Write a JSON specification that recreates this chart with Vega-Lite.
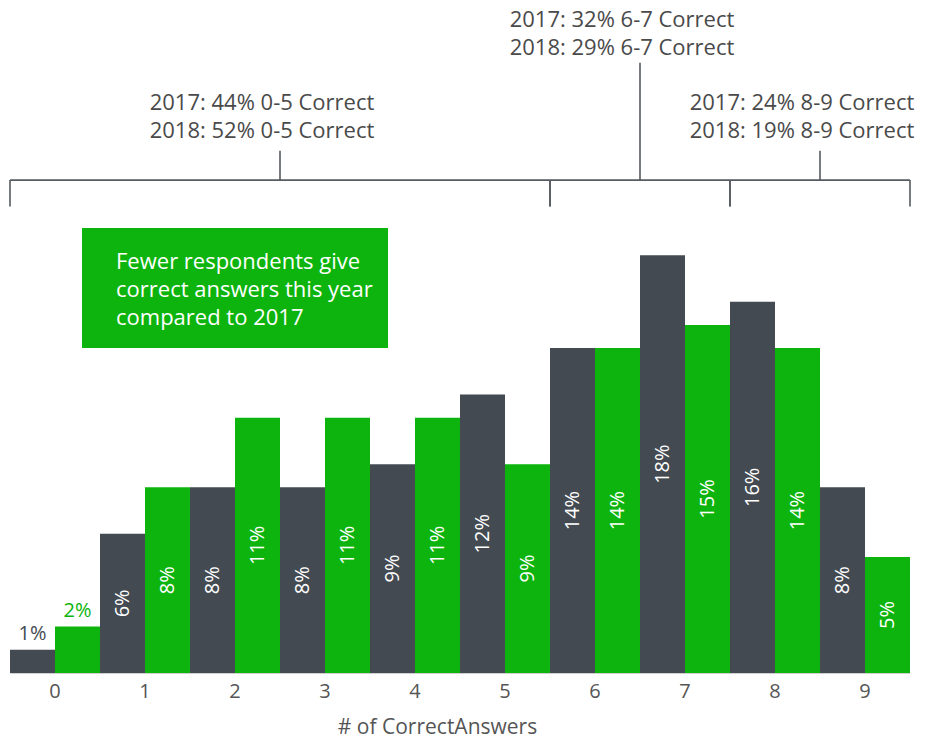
{
  "$schema": "https://vega.github.io/schema/vega-lite/v6.json",
  "autosize": "none",
  "width": 900,
  "height": 673,
  "padding": {"left": 10, "top": 0, "right": 23, "bottom": 69},
  "background": "white",
  "config": {"view": {"stroke": null}, "font": "Open Sans"},
  "datasets": {
    "answers": [
      {"answers": 0, "year": "2017", "pct": 1},
      {"answers": 0, "year": "2018", "pct": 2},
      {"answers": 1, "year": "2017", "pct": 6},
      {"answers": 1, "year": "2018", "pct": 8},
      {"answers": 2, "year": "2017", "pct": 8},
      {"answers": 2, "year": "2018", "pct": 11},
      {"answers": 3, "year": "2017", "pct": 8},
      {"answers": 3, "year": "2018", "pct": 11},
      {"answers": 4, "year": "2017", "pct": 9},
      {"answers": 4, "year": "2018", "pct": 11},
      {"answers": 5, "year": "2017", "pct": 12},
      {"answers": 5, "year": "2018", "pct": 9},
      {"answers": 6, "year": "2017", "pct": 14},
      {"answers": 6, "year": "2018", "pct": 14},
      {"answers": 7, "year": "2017", "pct": 18},
      {"answers": 7, "year": "2018", "pct": 15},
      {"answers": 8, "year": "2017", "pct": 16},
      {"answers": 8, "year": "2018", "pct": 14},
      {"answers": 9, "year": "2017", "pct": 8},
      {"answers": 9, "year": "2018", "pct": 5}
    ],
    "groups": [
      {"range": "0-5", "from": -0.5, "to": 5.5, "tier": 1, "note": "2017: 44% 0-5 Correct\n2018: 52% 0-5 Correct"},
      {"range": "6-7", "from": 5.5, "to": 7.5, "tier": 2, "note": "2017: 32% 6-7 Correct\n2018: 29% 6-7 Correct"},
      {"range": "8-9", "from": 7.5, "to": 9.5, "tier": 1, "note": "2017: 24% 8-9 Correct\n2018: 19% 8-9 Correct"}
    ],
    "callout": [
      {"note": "Fewer respondents give\ncorrect answers this year\ncompared to 2017"}
    ]
  },
  "layer": [
    {
      "data": {"name": "answers"},
      "encoding": {
        "x": {
          "field": "answers", "type": "ordinal",
          "scale": {"domain": [0, 1, 2, 3, 4, 5, 6, 7, 8, 9], "paddingInner": 0, "paddingOuter": 0},
          "axis": {
            "title": "# of CorrectAnswers", "labelAngle": 0, "ticks": false,
            "domainColor": "#d0d0d0", "domainWidth": 1,
            "labelFontSize": 20, "labelColor": "#555555", "labelPadding": 8,
            "titleFontSize": 21, "titleFontWeight": "normal", "titleColor": "#555555", "titlePadding": 15,
            "titleX": 427, "titleAlign": "center"
          }
        },
        "xOffset": {"field": "year", "type": "nominal", "scale": {"domain": ["2017", "2018"]}},
        "y": {"type": "quantitative", "scale": {"domain": [0, 29], "nice": false}, "axis": null}
      },
      "layer": [
        {
          "mark": {"type": "bar"},
          "encoding": {
            "y": {"field": "pct", "type": "quantitative"},
            "color": {"field": "year", "type": "nominal", "scale": {"domain": ["2017", "2018"], "range": ["#434a51", "#0db40d"]}, "legend": null}
          }
        },
        {
          "transform": [
            {"filter": "datum.pct >= 3"},
            {"calculate": "datum.pct / 2", "as": "mid"},
            {"calculate": "datum.pct + '%'", "as": "label"}
          ],
          "mark": {"type": "text", "angle": 270, "align": "center", "baseline": "middle", "fontSize": 20, "color": "white"},
          "encoding": {
            "y": {"field": "mid", "type": "quantitative"},
            "text": {"field": "label"}
          }
        },
        {
          "transform": [
            {"filter": "datum.pct < 3"},
            {"calculate": "datum.pct + '%'", "as": "label"}
          ],
          "mark": {"type": "text", "align": "center", "baseline": "alphabetic", "fontSize": 20, "dy": -10},
          "encoding": {
            "y": {"field": "pct", "type": "quantitative"},
            "text": {"field": "label"},
            "color": {"field": "year", "type": "nominal", "scale": {"domain": ["2017", "2018"], "range": ["#434a51", "#0db40d"]}, "legend": null}
          }
        }
      ]
    },
    {
      "encoding": {
        "x": {"type": "quantitative", "scale": {"domain": [-0.5, 9.5], "nice": false, "zero": false}, "axis": null},
        "y": {"type": "quantitative", "scale": {"domain": [0, 29], "nice": false}, "axis": null}
      },
      "layer": [
        {
          "data": {"name": "groups"},
          "mark": {"type": "rule", "color": "#555b60", "strokeWidth": 1.6},
          "encoding": {
            "x": {"field": "from", "type": "quantitative"},
            "x2": {"field": "to"},
            "y": {"datum": 21.24, "type": "quantitative"}
          }
        },
        {
          "data": {"name": "groups"},
          "mark": {"type": "rule", "color": "#555b60", "strokeWidth": 1.6},
          "encoding": {
            "x": {"field": "from", "type": "quantitative"},
            "y": {"datum": 20.1, "type": "quantitative"},
            "y2": {"datum": 21.24}
          }
        },
        {
          "data": {"name": "groups"},
          "mark": {"type": "rule", "color": "#555b60", "strokeWidth": 1.6},
          "encoding": {
            "x": {"field": "to", "type": "quantitative"},
            "y": {"datum": 20.1, "type": "quantitative"},
            "y2": {"datum": 21.24}
          }
        },
        {
          "data": {"name": "groups"},
          "transform": [
            {"calculate": "(datum.from + datum.to) / 2", "as": "mid"},
            {"calculate": "datum.tier == 2 ? 26.3 : 22.5", "as": "stemTop"}
          ],
          "mark": {"type": "rule", "color": "#555b60", "strokeWidth": 1.6},
          "encoding": {
            "x": {"field": "mid", "type": "quantitative"},
            "y": {"field": "stemTop", "type": "quantitative"},
            "y2": {"datum": 21.24}
          }
        },
        {
          "data": {"name": "groups"},
          "transform": [
            {"calculate": "(datum.from + datum.to) / 2", "as": "mid"},
            {"calculate": "datum.tier == 2 ? 28.14 : 24.56", "as": "noteY"}
          ],
          "mark": {"type": "text", "align": "center", "baseline": "middle", "fontSize": 22, "lineHeight": 28, "lineBreak": "\n", "color": "#4a4a4a", "dx": -18},
          "encoding": {
            "x": {"field": "mid", "type": "quantitative"},
            "y": {"field": "noteY", "type": "quantitative"},
            "text": {"field": "note"}
          }
        },
        {
          "data": {"name": "callout"},
          "mark": {"type": "rect", "color": "#0db40d"},
          "encoding": {
            "x": {"datum": 0.3, "type": "quantitative"},
            "x2": {"datum": 3.7},
            "y": {"datum": 19.18, "type": "quantitative"},
            "y2": {"datum": 14.0}
          }
        },
        {
          "data": {"name": "callout"},
          "mark": {"type": "text", "align": "left", "baseline": "middle", "fontSize": 22, "lineHeight": 28, "lineBreak": "\n", "color": "white"},
          "encoding": {
            "x": {"datum": 0.678, "type": "quantitative"},
            "y": {"datum": 17.71, "type": "quantitative"},
            "text": {"field": "note"}
          }
        }
      ]
    }
  ],
  "resolve": {"scale": {"x": "independent"}}
}
